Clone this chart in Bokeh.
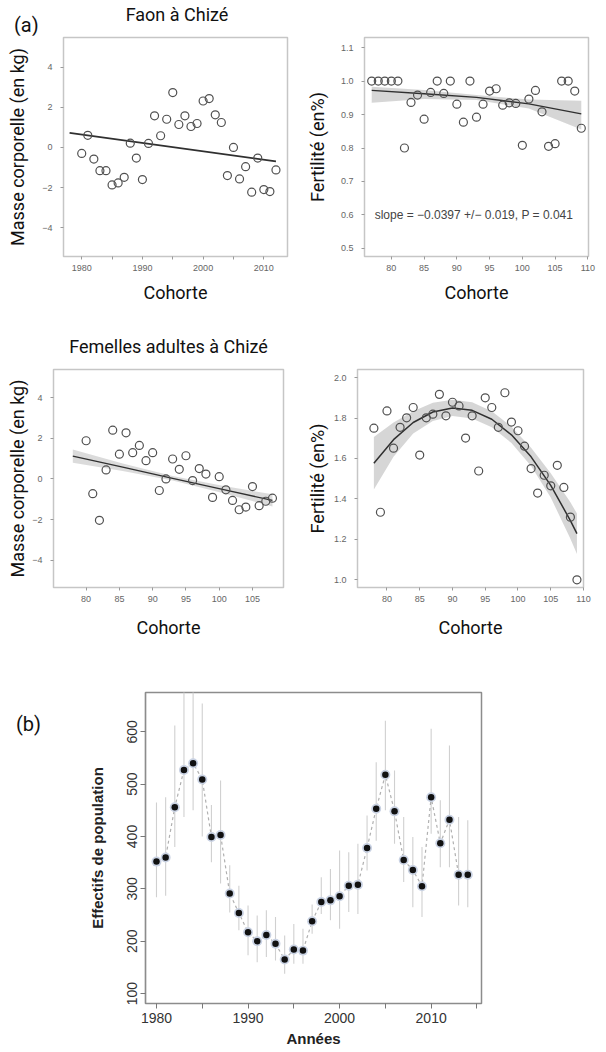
from bokeh.plotting import figure
from bokeh.layouts import column, row
from bokeh.models import FixedTicker, Label, Range1d, PrintfTickFormatter, Div
from bokeh.embed import file_html
from bokeh.resources import INLINE

# ---------------- data ----------------
# (a) Faon a Chize : masse corporelle
faon_year = [1980, 1981, 1982, 1983, 1984, 1985, 1986, 1987, 1988, 1989,
             1990, 1991, 1992, 1993, 1994, 1995, 1996, 1997, 1998, 1999,
             2000, 2001, 2002, 2003, 2004, 2005, 2006, 2007, 2008, 2009,
             2010, 2011, 2012]
faon_mass = [-0.3, 0.6, -0.58, -1.16, -1.16, -1.87, -1.77, -1.49, 0.21, -0.53,
             -1.6, 0.2, 1.57, 0.58, 1.4, 2.73, 1.14, 1.57, 1.04, 1.19,
             2.31, 2.43, 1.62, 1.24, -1.4, 0.0, -1.57, -0.96, -2.23, -0.53,
             -2.1, -2.2, -1.12]
faon_fit_x = [1978, 2012]
faon_fit_y = [0.72, -0.70]

# (a) Faon : fertilite
ffert_coh = [77, 78, 79, 80, 81, 82, 83, 84, 85, 86, 87, 88, 89, 90, 91, 92,
             93, 94, 95, 96, 97, 98, 99, 100, 101, 102, 103, 104, 105, 106,
             107, 108, 109]
ffert_val = [1.0, 1.0, 1.0, 1.0, 1.0, 0.80, 0.936, 0.958, 0.886, 0.966, 1.0,
             0.963, 1.0, 0.931, 0.877, 1.0, 0.892, 0.931, 0.970, 0.977, 0.928,
             0.935, 0.933, 0.808, 0.946, 0.972, 0.908, 0.805, 0.813, 1.0, 1.0,
             0.970, 0.859]
ffert_fit_x = [77, 85, 93, 101, 109]
ffert_fit_y = [0.972, 0.962, 0.951, 0.932, 0.902]
ffert_lo = [0.935, 0.946, 0.943, 0.918, 0.855]
ffert_hi = [0.983, 0.973, 0.958, 0.945, 0.941]
slope_text = "slope = \u22120.0397 +/\u2212 0.019, P = 0.041"

# (a) Femelles adultes : masse corporelle
fem_coh = [80, 81, 82, 83, 84, 85, 86, 87, 88, 89, 90, 91, 92, 93, 94, 95,
           96, 97, 98, 99, 100, 101, 102, 103, 104, 105, 106, 107, 108]
fem_mass = [1.88, -0.73, -2.04, 0.44, 2.40, 1.22, 2.27, 1.29, 1.65, 0.90,
            1.29, -0.57, 0.0, 0.98, 0.47, 1.14, -0.08, 0.51, 0.24, -0.91,
            0.11, -0.54, -1.06, -1.52, -1.39, -0.38, -1.32, -1.1, -0.95]
fem_fit_x = [78, 85.5, 93, 100.5, 108]
fem_fit_y = [1.12, 0.575, 0.03, -0.515, -1.06]
fem_lo = [0.79, 0.395, -0.08, -0.695, -1.36]
fem_hi = [1.45, 0.755, 0.14, -0.335, -0.76]

# (a) Femelles adultes : fertilite
afert_coh = [78, 79, 80, 81, 82, 83, 84, 85, 86, 87, 88, 89, 90, 91, 92, 93,
             94, 95, 96, 97, 98, 99, 100, 101, 102, 103, 104, 105, 106, 107,
             108, 109]
afert_val = [1.750, 1.334, 1.835, 1.651, 1.754, 1.801, 1.852, 1.617, 1.801,
             1.819, 1.917, 1.811, 1.878, 1.860, 1.701, 1.811, 1.538, 1.900,
             1.852, 1.754, 1.925, 1.780, 1.737, 1.661, 1.550, 1.429, 1.517,
             1.465, 1.566, 1.457, 1.310, 1.000]
afert_fit_x = [78, 81, 84, 87, 90, 93, 96, 99, 102, 105, 108, 109]
afert_fit_y = [1.576, 1.693, 1.778, 1.830, 1.850, 1.838, 1.794, 1.717, 1.608,
               1.467, 1.293, 1.228]
afert_lo = [1.446, 1.608, 1.723, 1.785, 1.810, 1.798, 1.754, 1.677, 1.563,
            1.407, 1.203, 1.128]
afert_hi = [1.706, 1.778, 1.833, 1.875, 1.890, 1.878, 1.834, 1.757, 1.653,
            1.527, 1.383, 1.328]

# (b) Effectifs de population
pop_year = list(range(1980, 2015))
pop_val = [352, 360, 456, 527, 540, 509, 399, 403, 291, 254,
           217, 200, 212, 195, 165, 184, 182, 238, 275, 278,
           286, 306, 308, 378, 453, 518, 448, 355, 336, 305,
           475, 387, 432, 327, 327]
pop_lo = [284, 287, 380, 437, 450, 400, 351, 310, 255, 221,
          173, 160, 170, 163, 138, 157, 157, 214, 252, 240,
          224, 256, 252, 335, 392, 450, 386, 313, 265, 246,
          405, 341, 341, 268, 265]
pop_hi = [465, 475, 612, 720, 720, 654, 460, 507, 345, 306,
          268, 249, 259, 246, 211, 233, 224, 270, 322, 338,
          373, 370, 386, 440, 542, 621, 526, 437, 399, 380,
          606, 469, 574, 437, 431]

# ---------------- helpers ----------------
PT_COLOR = "#505050"
FIT_COLOR = "#303030"
BAND_COLOR = "#d2d2d2"
PT_SIZE = 8


def make_fig(w, h, xr, yr, mb):
    p = figure(width=w, height=h, x_range=Range1d(*xr), y_range=Range1d(*yr),
               toolbar_location=None, output_backend="svg",
               min_border_left=mb[0], min_border_right=mb[1],
               min_border_top=mb[2], min_border_bottom=mb[3])
    p.xgrid.visible = False
    p.ygrid.visible = False
    p.background_fill_color = "white"
    p.border_fill_color = "white"
    return p


def style_a(p, xlabel, ylabel, xticks, yticks, xminor=None, yfmt=None,
            ystand=12, xstand=6):
    p.outline_line_color = "#c6c6c6"
    p.outline_line_width = 1.5
    for ax in (p.xaxis[0], p.yaxis[0]):
        ax.axis_line_color = None
        ax.major_tick_line_color = "#9a9a9a"
        ax.major_tick_out = 3
        ax.major_tick_in = 0
        ax.minor_tick_line_color = "#9a9a9a"
        ax.minor_tick_out = 3
        ax.minor_tick_in = 0
        ax.major_label_text_font = "Liberation Sans"
        ax.major_label_text_font_size = "9px"
        ax.major_label_text_color = "#666666"
        ax.axis_label_text_font = "Roboto"
        ax.axis_label_text_font_size = "18px"
        ax.axis_label_text_font_style = "normal"
        ax.axis_label_text_color = "#111111"
    p.xaxis[0].ticker = FixedTicker(ticks=xticks, minor_ticks=xminor or [])
    p.yaxis[0].ticker = FixedTicker(ticks=yticks, minor_ticks=[])
    p.xaxis[0].major_label_standoff = 5
    p.yaxis[0].major_label_standoff = 8
    p.xaxis[0].axis_label = xlabel
    p.yaxis[0].axis_label = ylabel
    p.xaxis[0].axis_label_standoff = xstand
    p.yaxis[0].axis_label_standoff = ystand
    if yfmt:
        p.yaxis[0].formatter = PrintfTickFormatter(format=yfmt)


# ---------------- top heading band : (a) + title ----------------
top_div = Div(
    text=('<div style="position:relative;width:606px;height:35px;'
          'overflow:visible;font-family:Roboto;color:#111111;">'
          '<span style="position:absolute;left:14px;top:16px;font-size:20px;'
          'line-height:19px;">(a)</span>'
          '<span style="position:absolute;left:63px;width:228px;top:4px;'
          'text-align:center;font-size:18px;line-height:21px;">'
          'Faon à Chizé</span></div>'),
    width=606, height=35, margin=0, styles={"overflow": "visible"})

# ---------------- panel 1 : faon masse ----------------
xr1, yr1 = (1977.0, 2013.9), (-5.43, 5.47)
p1 = make_fig(303, 270, xr1, yr1, (63, 16, 2, 47))
style_a(p1, "Cohorte", "Masse corporelle (en kg)", [1980, 1990, 2000, 2010],
        [-4, -2, 0, 2, 4], xminor=[1985, 1995, 2005], ystand=11, xstand=8)
p1.line(faon_fit_x, faon_fit_y, line_color=FIT_COLOR, line_width=1.7)
p1.scatter(faon_year, faon_mass, size=PT_SIZE, marker="circle",
           fill_color=None, line_color=PT_COLOR, line_width=1.2)

# ---------------- panel 2 : faon fertilite ----------------
xr2, yr2 = (75.9, 110.1), (0.476, 1.13)
p2 = make_fig(303, 270, xr2, yr2, (58, 18, 2, 48))
style_a(p2, "Cohorte", "Fertilité (en%)", [80, 85, 90, 95, 100, 105, 110],
        [0.5, 0.6, 0.7, 0.8, 0.9, 1.0, 1.1], yfmt="%.1f", ystand=10, xstand=8)
p2.varea(x=ffert_fit_x, y1=ffert_lo, y2=ffert_hi, fill_color=BAND_COLOR,
         fill_alpha=0.9)
p2.line(ffert_fit_x, ffert_fit_y, line_color=FIT_COLOR, line_width=1.3)
p2.scatter(ffert_coh, ffert_val, size=PT_SIZE, marker="circle",
           fill_color=None, line_color=PT_COLOR, line_width=1.2)
p2.add_layout(Label(x=92.6, y=0.6, text=slope_text, text_font="Liberation Sans",
                    text_font_size="12px", text_color="#444444",
                    text_align="center", text_baseline="middle"))

# ---------------- panel 3 : femelles masse ----------------
xr3, yr3 = (75.1, 109.66), (-5.35, 5.39)
p3 = make_fig(303, 335, xr3, yr3, (53, 20, 64, 52))
style_a(p3, "Cohorte", "Masse corporelle (en kg)", [80, 85, 90, 95, 100, 105],
        [-4, -2, 0, 2, 4], ystand=1, xstand=12)
p3.title.text = "Femelles adultes à Chizé"
p3.title.align = "center"
p3.title.text_font = "Roboto"
p3.title.text_font_size = "18px"
p3.title.text_font_style = "normal"
p3.title.text_color = "#111111"
p3.title.standoff = 26
p3.varea(x=fem_fit_x, y1=fem_lo, y2=fem_hi, fill_color=BAND_COLOR,
         fill_alpha=0.8)
p3.line(fem_fit_x, fem_fit_y, line_color=FIT_COLOR, line_width=1.3)
p3.scatter(fem_coh, fem_mass, size=PT_SIZE, marker="circle",
           fill_color=None, line_color=PT_COLOR, line_width=1.2)

# ---------------- panel 4 : femelles fertilite ----------------
xr4, yr4 = (75.5, 110.0), (0.962, 2.04)
p4 = make_fig(303, 335, xr4, yr4, (49, 23, 64, 51))
style_a(p4, "Cohorte", "Fertilité (en%)", [80, 85, 90, 95, 100, 105, 110],
        [1.0, 1.2, 1.4, 1.6, 1.8, 2.0], yfmt="%.1f", ystand=3, xstand=12)
p4.varea(x=afert_fit_x, y1=afert_lo, y2=afert_hi, fill_color=BAND_COLOR,
         fill_alpha=0.9)
p4.line(afert_fit_x, afert_fit_y, line_color=FIT_COLOR, line_width=1.5)
p4.scatter(afert_coh, afert_val, size=PT_SIZE, marker="circle",
           fill_color=None, line_color=PT_COLOR, line_width=1.2)

# ---------------- panel 5 : effectifs ----------------
b_div = Div(
    text=('<div style="position:relative;width:50px;height:410px;'
          'font-family:Roboto;color:#111111;">'
          '<span style="position:absolute;left:16px;top:74px;font-size:20px;'
          'line-height:21px;">(b)</span></div>'),
    width=50, height=410, margin=0)

xr5, yr5 = (1978.8, 2015.5), (81, 675)
p5 = make_fig(556, 410, xr5, yr5, (95, 125, 52, 47))
p5.outline_line_color = "#8c8c8c"
p5.outline_line_width = 1.5
for ax in (p5.xaxis[0], p5.yaxis[0]):
    ax.axis_line_color = "#8c8c8c"
    ax.axis_line_width = 1.2
    ax.major_tick_line_color = "#777777"
    ax.major_tick_out = 5
    ax.major_tick_in = 0
    ax.minor_tick_line_color = None
    ax.major_label_text_font = "Liberation Sans"
    ax.major_label_text_font_size = "14px"
    ax.major_label_text_color = "#333333"
    ax.major_label_standoff = 3
    ax.axis_label_text_font = "Liberation Sans"
    ax.axis_label_text_font_size = "15px"
    ax.axis_label_text_font_style = "bold"
    ax.axis_label_text_color = "#222222"
p5.xaxis[0].ticker = FixedTicker(ticks=[1980, 1985, 1990, 1995, 2000, 2005,
                                        2010, 2015])
p5.xaxis[0].major_label_overrides = {1985: "", 1995: "", 2005: "", 2015: ""}
p5.xaxis[0].major_label_standoff = 4
p5.yaxis[0].ticker = FixedTicker(ticks=[100, 200, 300, 400, 500, 600])
p5.yaxis[0].major_label_orientation = "vertical"
p5.xaxis[0].axis_label = "Années"
p5.yaxis[0].axis_label = "Effectifs de population"
p5.xaxis[0].axis_label_standoff = 4
p5.yaxis[0].axis_label_standoff = 19
p5.segment(x0=pop_year, y0=pop_lo, x1=pop_year, y1=pop_hi,
           line_color="#d0d0d0", line_width=1.1)
p5.line(pop_year, pop_val, line_color="#b0b0b0", line_dash="3 3",
        line_width=1.2)
p5.scatter(pop_year, pop_val, size=10, marker="circle", fill_color="#c9d2e3",
           line_color=None)
p5.scatter(pop_year, pop_val, size=6.5, marker="circle", fill_color="#111111",
           line_color=None)

layout = column(top_div, row(p1, p2), row(p3, p4), row(b_div, p5))
open("out.html", "w").write(file_html(layout, INLINE))
